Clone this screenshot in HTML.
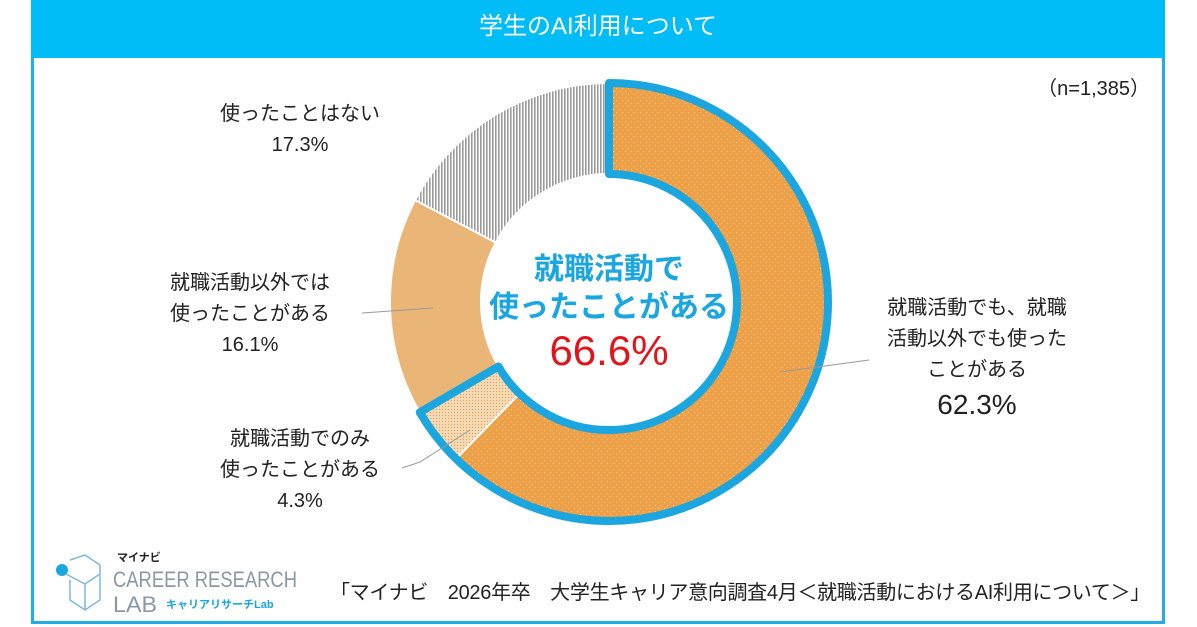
<!DOCTYPE html>
<html><head><meta charset="utf-8"><style>
body{margin:0;width:1197px;height:627px;overflow:hidden;background:#fff;font-family:"Liberation Sans","Noto Sans CJK JP",sans-serif;}
.t{position:absolute;text-align:center;color:#222;font-size:20px;line-height:31px;white-space:nowrap}
</style></head><body>
<div style="position:absolute;left:31px;top:0;width:1134px;height:624px;border:3px solid #22ade6;border-top:none;box-sizing:border-box"></div>
<div style="position:absolute;left:31px;top:0;width:1134px;height:58px;background:#00bdf7;color:#fff;font-size:24px;line-height:54px;text-align:center">学生のAI利用について</div>
<svg style="position:absolute;left:0;top:0" width="1197" height="627">
<defs>
<pattern id="dO" width="6" height="6" patternUnits="userSpaceOnUse"><rect width="6" height="6" fill="#ef9f45"/><circle cx="1.5" cy="1.5" r="0.6" fill="#f8d49c"/><circle cx="4.5" cy="4.5" r="0.6" fill="#f8d49c"/></pattern>
<pattern id="dL" width="3" height="3" patternUnits="userSpaceOnUse"><rect width="3" height="3" fill="#f7dcb8"/><circle cx="1.5" cy="1.5" r="0.7" fill="#e2a765"/></pattern>
<pattern id="gV" width="3" height="3" patternUnits="userSpaceOnUse"><rect width="3" height="3" fill="#fff"/><rect width="1.6" height="3" fill="#9a9a9a"/></pattern>
</defs>
<path d="M609,83 A219,219 0 1 1 456.1,458.8 L519.6,393.6 A128,128 0 1 0 609,174 Z" fill="url(#dO)"/>
<path d="M456.1,458.8 A219,219 0 0 1 419.8,412.3 L498.4,366.5 A128,128 0 0 0 519.6,393.6 Z" fill="url(#dL)" stroke="#fff" stroke-width="2"/>
<path d="M419.8,412.3 A219,219 0 0 1 415.1,200.1 L495.7,242.5 A128,128 0 0 0 498.4,366.5 Z" fill="#e9b677" stroke="#fff" stroke-width="2"/>
<path d="M415.1,200.1 A219,219 0 0 1 609,83 L609,174 A128,128 0 0 0 495.7,242.5 Z" fill="url(#gV)" stroke="#fff" stroke-width="2"/>
<path d="M609,83 A219,219 0 1 1 419.8,412.3 L498.4,366.5 A128,128 0 1 0 609,174 Z" fill="none" stroke="#1ba6df" stroke-width="8" stroke-linejoin="round"/>
<g stroke="#999" stroke-width="1" fill="none">
<line x1="433" y1="308" x2="362" y2="313"/>
<polyline points="470,430 420,462 402,468"/>
<line x1="780" y1="372" x2="869" y2="360"/>
</g>
<g fill="#7fb9dc" stroke="#7fb9dc">
<circle cx="62" cy="570" r="6" fill="#1ba6df" stroke="none"/>
<g fill="none" stroke-width="1.5"><path d="M70,560 L85,555 L100,565 L100,600 L85,610 L70,600 L70,580"/><path d="M66,574 L85,584 L100,574"/><path d="M85,584 L85,610"/></g>
</g>
<text x="117" y="561" font-size="11" font-weight="bold" fill="#222">マイナビ</text>
<text x="113" y="587" font-size="22" fill="#8a98a6" textLength="184" lengthAdjust="spacingAndGlyphs">CAREER RESEARCH</text>
<text x="113" y="612" font-size="22" fill="#8a98a6" textLength="44" lengthAdjust="spacingAndGlyphs">LAB</text>
<text x="166" y="608" font-size="11" font-weight="bold" fill="#1ba6df">キャリアリサーチLab</text>
</svg>
<div class="t" style="left:200px;top:99px;width:200px">使ったことはない<br>17.3%</div>
<div class="t" style="left:150px;top:268px;width:200px">就職活動以外では<br>使ったことがある<br>16.1%</div>
<div class="t" style="left:200px;top:424px;width:200px">就職活動でのみ<br>使ったことがある<br>4.3%</div>
<div class="t" style="left:857px;top:293px;width:240px;line-height:31px">就職活動でも、就職<br>活動以外でも使った<br>ことがある<br><span style="font-size:28px;line-height:38px">62.3%</span></div>
<div class="t" style="left:1000px;top:74px;width:150px;text-align:right">（n=1,385）</div>
<div class="t" style="left:459px;top:251px;width:300px;color:#1ba6df;font-size:30px;font-weight:bold;line-height:38px">就職活動で<br>使ったことがある</div>
<div class="t" style="left:459px;top:326px;width:300px;color:#e3131b;font-size:42px;line-height:50px">66.6%</div>
<div class="t" style="left:310px;top:578px;width:840px;text-align:right;font-size:20px;letter-spacing:-0.3px">「マイナビ　2026年卒　大学生キャリア意向調査4月＜就職活動におけるAI利用について＞」</div>
</body></html>
